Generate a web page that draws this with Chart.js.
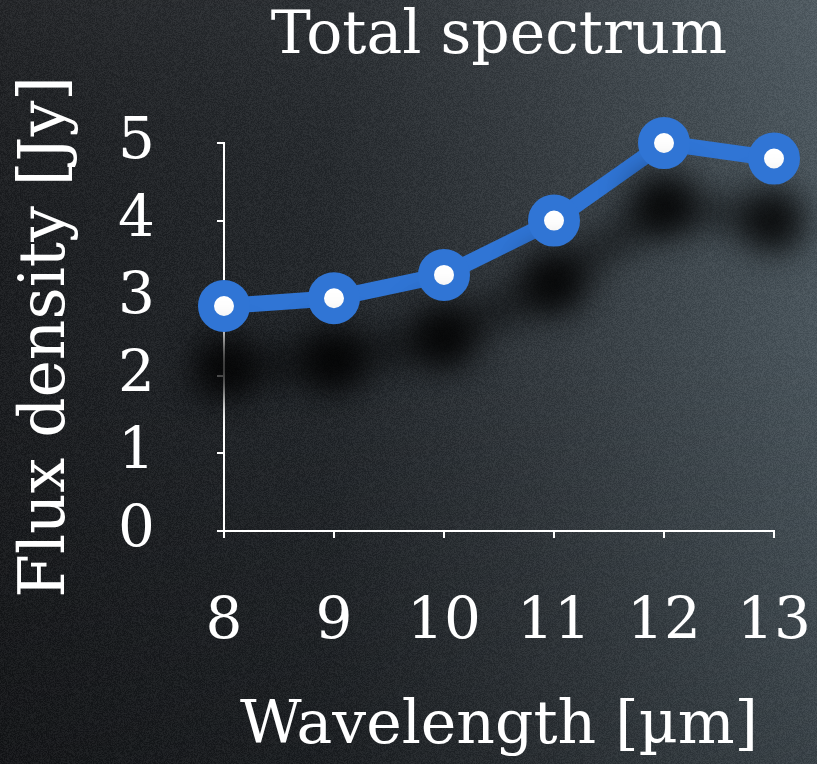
<!DOCTYPE html>
<html>
<head>
<meta charset="utf-8">
<script src="https://cdn.jsdelivr.net/npm/chart.js@4"></script>
<style>
  html, body { margin: 0; padding: 0; background: #222629; }
  #wrap { width: 817px; height: 764px; }
</style>
</head>
<body>
<div id="wrap"><canvas id="spectrumChart"></canvas></div>
<script>
// spectrum points: wavelength in micron, flux in Jy
const wavelengths = [8, 9, 10, 11, 12, 13];
const fluxValues = [2.9, 3.0, 3.3, 4.0, 5.0, 4.8];
const fluxTicks = [0, 1, 2, 3, 4, 5];

const FONT = "'DejaVu Serif', serif";
const BLUE = '#3075d5';

// dark slate backdrop with a bit of grain
const backdrop = {
  id: 'backdrop',
  beforeDraw(chart) {
    const { ctx, width, height } = chart;
    ctx.save();
    const h = ctx.createLinearGradient(0, 0, width, 0);
    h.addColorStop(0, '#1d1f22');
    h.addColorStop(0.4, '#25292d');
    h.addColorStop(0.65, '#343a3f');
    h.addColorStop(0.85, '#414a50');
    h.addColorStop(1, '#4a555c');
    ctx.fillStyle = h;
    ctx.fillRect(0, 0, width, height);
    const v = ctx.createLinearGradient(0, 0, 0, height);
    v.addColorStop(0, 'rgba(255,255,255,0.04)');
    v.addColorStop(0.45, 'rgba(0,0,0,0)');
    v.addColorStop(1, 'rgba(0,0,0,0.22)');
    ctx.fillStyle = v;
    ctx.fillRect(0, 0, width, height);

    const img = ctx.getImageData(0, 0, width, height);
    const d = img.data;
    let seed = 12345;
    for (let i = 0; i < d.length; i += 4) {
      seed = (seed * 1103515245 + 12345) & 0x7fffffff;
      const n = ((seed >> 16) % 17) - 8;
      d[i] += n; d[i + 1] += n; d[i + 2] += n;
    }
    ctx.putImageData(img, 0, 0);
    ctx.restore();
  }
};

// soft drop shadow under the line and markers
const dropShadow = {
  id: 'dropShadow',
  beforeDatasetsDraw(chart) {
    const ctx = chart.ctx;
    ctx.save();
    ctx.shadowColor = 'rgba(0,0,0,1)';
    ctx.shadowBlur = 36;
    ctx.shadowOffsetX = 0;
    ctx.shadowOffsetY = 62;
  },
  afterDatasetsDraw(chart) {
    chart.ctx.restore();
  }
};

const axisCommon = {
  grid: { drawOnChartArea: false, drawTicks: true, tickLength: 7, color: '#ffffff', lineWidth: 2 },
  border: { display: true, color: '#ffffff', width: 2 }
};

const ctx = document.getElementById('spectrumChart').getContext('2d');
new Chart(ctx, {
  type: 'line',
  data: {
    datasets: [{
      data: wavelengths.map((w, i) => ({ x: w, y: fluxValues[i] })),
      borderColor: BLUE,
      borderWidth: 16,
      pointRadius: 18,
      pointHoverRadius: 18,
      pointBorderWidth: 16,
      pointBorderColor: BLUE,
      pointBackgroundColor: '#ffffff',
      tension: 0,
      clip: false
    }]
  },
  options: {
    responsive: true,
    maintainAspectRatio: false,
    animation: false,
    events: [],
    layout: { padding: { left: 0, right: 43, top: 0, bottom: 0 } },
    plugins: {
      legend: { display: false },
      tooltip: { enabled: false },
      title: {
        display: true,
        fullSize: false,
        text: 'Total spectrum',
        color: '#ffffff',
        font: { family: FONT, size: 60, weight: 'normal' },
        padding: { top: 1, bottom: 70 }
      }
    },
    scales: {
      x: {
        ...axisCommon,
        type: 'linear',
        min: 8,
        max: 13,
        afterBuildTicks(scale) {
          scale.ticks = wavelengths.map(v => ({ value: v }));
        },
        ticks: { color: '#ffffff', padding: 50, font: { family: FONT, size: 58 } },
        title: {
          display: true,
          text: 'Wavelength [µm]',
          color: '#ffffff',
          font: { family: FONT, size: 60, weight: 'normal' },
          padding: { top: 0, bottom: 1 }
        },
        afterFit(scale) {
          scale.height = 233;
          scale.paddingLeft = 0;
          scale.paddingRight = 0;
        }
      },
      y: {
        ...axisCommon,
        min: 0,
        max: 5,
        afterBuildTicks(scale) {
          scale.ticks = fluxTicks.map(v => ({ value: v }));
        },
        ticks: { color: '#ffffff', padding: 62, font: { family: FONT, size: 58 } },
        title: {
          display: true,
          text: 'Flux density [Jy]',
          color: '#ffffff',
          font: { family: FONT, size: 63, weight: 'normal' },
          padding: { top: 10, bottom: 0 }
        },
        afterFit(scale) {
          scale.width = 224;
          scale.paddingTop = 0;
          scale.paddingBottom = 0;
        }
      }
    }
  },
  plugins: [backdrop, dropShadow]
});
</script>
</body>
</html>
